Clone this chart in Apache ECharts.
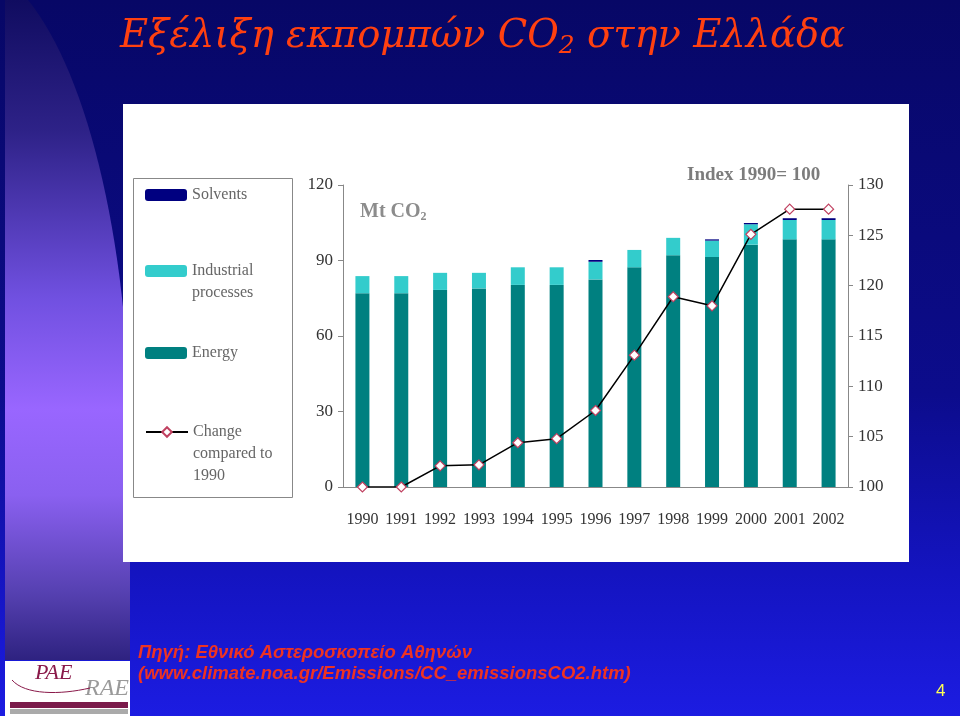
<!DOCTYPE html>
<html>
<head>
<meta charset="utf-8">
<script src="https://cdn.jsdelivr.net/npm/echarts@6/dist/echarts.min.js"></script>
<style>html,body{margin:0;padding:0;background:#0a0a70;}#c{width:960px;height:716px;}</style>
</head>
<body>
<div id="c"></div>
<script>
// ---- data ----
const years = ['1990','1991','1992','1993','1994','1995','1996','1997','1998','1999','2000','2001','2002'];
const energy = [77.0, 77.0, 78.3, 78.9, 80.3, 80.3, 82.5, 87.3, 92.1, 91.4, 96.3, 98.4, 98.4];
const industrial = [6.8, 6.8, 6.8, 6.2, 7.0, 7.0, 7.0, 6.9, 6.9, 6.5, 8.1, 7.7, 7.7];
const solvents = [0, 0, 0, 0, 0, 0, 0.7, 0, 0, 0.5, 0.5, 0.7, 0.7];
const indexChange = [100, 100, 102.1, 102.2, 104.4, 104.8, 107.6, 113.1, 118.9, 118.0, 125.1, 127.6, 127.6];
const leftTicks = [0, 30, 60, 90, 120];
const rightTicks = [100, 105, 110, 115, 120, 125, 130];

const serif = '"Liberation Serif", "Times New Roman", serif';
const chart = echarts.init(document.getElementById('c'));

function legendBox(name, top, fmtLines) {
  return {
    data: [name], left: 145, top: top, orient: 'vertical', padding: 0,
    itemWidth: 42, itemHeight: 12, itemGap: 0,
    formatter: () => fmtLines,
    textStyle: { fontFamily: serif, fontSize: 16, color: '#666', lineHeight: 22 }
  };
}

// decorative swoosh outline (slide background shape)
function bez(p0, p1, p2, p3, n) {
  const pts = [];
  for (let i = 0; i <= n; i++) {
    const t = i / n, u = 1 - t;
    pts.push([u*u*u*p0[0] + 3*u*u*t*p1[0] + 3*u*t*t*p2[0] + t*t*t*p3[0],
              u*u*u*p0[1] + 3*u*u*t*p1[1] + 3*u*t*t*p2[1] + t*t*t*p3[1]]);
  }
  return pts;
}
const swoosh = [[5, 0]].concat(bez([28, 0], [85, 70], [126, 230], [130, 420], 30), [[130, 660], [5, 660]]);

const option = {
  animation: false,
  backgroundColor: 'transparent',
  graphic: [
    { type: 'rect', z: -10, shape: { x: 0, y: 0, width: 960, height: 716 }, silent: true,
      style: { fill: new echarts.graphic.LinearGradient(0, 0, 0, 1, [
        { offset: 0, color: '#070766' }, { offset: 0.55, color: '#0c0c8c' },
        { offset: 0.8, color: '#1414c0' }, { offset: 1, color: '#1c1ce2' }]) } },
    { type: 'polygon', z: -9, silent: true,
      shape: { points: swoosh },
      style: { fill: new echarts.graphic.LinearGradient(0, 0, 0, 1, [
        { offset: 0, color: '#100c60' }, { offset: 0.2, color: '#2e2288' },
        { offset: 0.45, color: '#7050e0' }, { offset: 0.62, color: '#9966ff' },
        { offset: 0.75, color: '#8a60f0' }, { offset: 0.9, color: '#5540b0' }, { offset: 1, color: '#2e2280' }]) } },
    // logo
    { type: 'rect', z: -8, silent: true, shape: { x: 5, y: 661, width: 125, height: 55 }, style: { fill: '#ffffff' } },
    { type: 'text', z: -7, left: 35, top: 662, silent: true,
      style: { text: 'PAE', font: 'italic 22px "Liberation Serif"', fill: '#8a1a4a' } },
    { type: 'text', z: -7, left: 85, top: 677, silent: true,
      style: { text: 'RAE', font: 'italic 24px "Liberation Serif"', fill: '#9a9a9a' } },
    { type: 'bezierCurve', z: -7, silent: true,
      shape: { x1: 12, y1: 680, cpx1: 25, cpy1: 695, cpx2: 60, cpy2: 695, x2: 90, y2: 688 },
      style: { stroke: '#8a1a4a', fill: null, lineWidth: 1 } },
    { type: 'rect', z: -7, silent: true, shape: { x: 10, y: 702, width: 118, height: 6 }, style: { fill: '#7a1a4a' } },
    { type: 'rect', z: -7, silent: true, shape: { x: 10, y: 709, width: 118, height: 5 }, style: { fill: '#aaaaaa' } },
    // white panel
    { type: 'rect', z: -6, silent: true, shape: { x: 123, y: 104, width: 786, height: 458 }, style: { fill: '#ffffff' } },
    // legend frame
    { type: 'rect', z: -5, silent: true, shape: { x: 133.5, y: 178.5, width: 159, height: 319 },
      style: { fill: null, stroke: '#888', lineWidth: 1 } },
    // title
    { type: 'text', left: 120, top: 17, silent: true,
      style: { text: '{a|Εξέλιξη εκπομπών CO}{b|2}{a| στην Ελλάδα}',
        rich: { a: { fontFamily: '"DejaVu Serif"', fontStyle: 'italic', fontSize: 38.5, fill: '#ff4010' },
                b: { fontFamily: '"DejaVu Serif"', fontStyle: 'italic', fontSize: 25, fill: '#ff4010', padding: [19, 0, 0, 0] } } } },
    // axis captions
    { type: 'text', left: 360, top: 202, silent: true,
      style: { text: '{a|Mt CO}{b|2}', rich: { a: { fontFamily: serif, fontWeight: 'bold', fontSize: 20, fill: '#8c8c8c' },
        b: { fontFamily: serif, fontWeight: 'bold', fontSize: 12, fill: '#8c8c8c', padding: [9, 0, 0, 0] } } } },
    { type: 'text', left: 687, top: 166, silent: true,
      style: { text: 'Index 1990= 100', font: 'bold 19px "Liberation Serif"', fill: '#7c7c7c' } },
    // footer
    { type: 'text', left: 138, top: 643, silent: true,
      style: { text: 'Πηγή: Εθνικό Αστεροσκοπείο Αθηνών', font: 'italic bold 18.5px "Liberation Sans"', fill: '#ee3322' } },
    { type: 'text', left: 138, top: 664, silent: true,
      style: { text: '(www.climate.noa.gr/Emissions/CC_emissionsCO2.htm)', font: 'italic bold 18.5px "Liberation Sans"', fill: '#ee3322' } },
    { type: 'text', left: 936, top: 683, silent: true,
      style: { text: '4', font: '17px "Liberation Sans"', fill: '#ffff55' } }
  ],
  legend: [
    legendBox('Solvents', 184, 'Solvents'),
    legendBox('Industrial processes', 238, ' \nIndustrial\nprocesses'),
    legendBox('Energy', 342, 'Energy'),
    legendBox('Change compared to 1990', 377, ' \n \nChange\ncompared to\n1990')
  ],
  grid: { left: 343, right: 112, top: 185, bottom: 229 },
  xAxis: {
    type: 'category', data: years,
    axisLine: { lineStyle: { color: '#888', width: 1 } },
    axisTick: { show: false },
    axisLabel: { interval: 0, fontFamily: serif, fontSize: 16, color: '#333', margin: 25 }
  },
  yAxis: [
    { type: 'value', min: 0, max: 120, interval: 30, position: 'left',
      axisLine: { show: true, lineStyle: { color: '#888' } },
      axisTick: { show: true, length: 5, lineStyle: { color: '#888' } },
      splitLine: { show: false },
      axisLabel: { fontFamily: serif, fontSize: 17, color: '#333', margin: 10 } },
    { type: 'value', min: 100, max: 130, interval: 5, position: 'right',
      axisLine: { show: true, lineStyle: { color: '#888' } },
      axisTick: { show: true, length: 5, lineStyle: { color: '#888' } },
      splitLine: { show: false },
      axisLabel: { fontFamily: serif, fontSize: 17, color: '#333', margin: 10 } }
  ],
  series: [
    { name: 'Energy', type: 'bar', stack: 'co2', data: energy, barWidth: 14, itemStyle: { color: '#008080' } },
    { name: 'Industrial processes', type: 'bar', stack: 'co2', data: industrial, barWidth: 14, itemStyle: { color: '#33cccc' } },
    { name: 'Solvents', type: 'bar', stack: 'co2', data: solvents, barWidth: 14, itemStyle: { color: '#000080' } },
    { name: 'Change compared to 1990', type: 'line', yAxisIndex: 1, data: indexChange,
      symbol: 'diamond', symbolSize: 10, showAllSymbol: true,
      lineStyle: { color: '#000', width: 1.5 },
      itemStyle: { color: '#ffffff', borderColor: '#c04060', borderWidth: 1.2 }, z: 5 }
  ]
};
chart.setOption(option);
</script>
</body>
</html>
